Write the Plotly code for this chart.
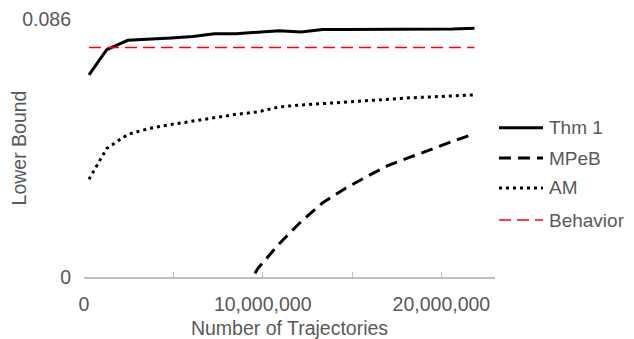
import plotly.graph_objects as go

# Number of trajectories (x) shared by all series
trajectories = [280000, 1270000, 2450000, 3660000, 4870000, 6090000, 7300000,
                8510000, 9720000, 10940000, 12150000, 13360000, 14570000,
                15790000, 17000000, 18210000, 19420000, 20640000, 21850000]

thm1 = [0.0675, 0.0759, 0.0790, 0.0793, 0.0798, 0.0803, 0.0812, 0.0812,
        0.0817, 0.0822, 0.0818, 0.0826, 0.0826, 0.0826, 0.0826, 0.0826,
        0.0827, 0.0828, 0.0830]

mpeb = [None, None, None, None, None, None, None, -0.0098,
        0.0028, 0.0112, 0.0185, 0.0248, 0.0294, 0.0334, 0.0372, 0.0399,
        0.0427, 0.0453, 0.0478]

am = [0.0326, 0.0429, 0.0476, 0.0496, 0.0509, 0.0521, 0.0533, 0.0543,
      0.0551, 0.0568, 0.0574, 0.0579, 0.0584, 0.0590, 0.0594, 0.0598,
      0.0601, 0.0605, 0.0608]

behavior = [0.0766] * len(trajectories)

series_names = ["Thm 1", "MPeB", "AM", "Behavior"]

x_tickvals = [0, 5000000, 10000000, 15000000, 20000000]
x_ticktext = ["0", "", "10,000,000", "", "20,000,000"]
y_tickvals = [0, 0.086]
y_ticktext = ["0", "0.086"]

FONT = "Liberation Sans, Arial, sans-serif"
GRAY = "#595959"
FS = 19.5

styles = [
    dict(color="black", width=3),
    dict(color="black", width=3, dash="12px,7px"),
    dict(color="black", width=3, dash="3px,4px"),
    dict(color="#ff0000", width=1.5, dash="12px,6px"),
]
values = [thm1, mpeb, am, behavior]

fig = go.Figure()
for name, vals, st in zip(series_names, values, styles):
    fig.add_trace(go.Scatter(x=trajectories, y=vals, name=name, mode="lines",
                             line=st, showlegend=False))

# Manual legend (sample line + label), right of the plot area
legend_rows_y = [0.5787, 0.4612, 0.3450, 0.2209]
for name, st, yy in zip(series_names, styles, legend_rows_y):
    fig.add_shape(type="line", xref="paper", yref="paper",
                  x0=1.0097, x1=1.1168, y0=yy, y1=yy,
                  line=dict(color=st["color"], width=st["width"],
                            dash=st.get("dash", "solid")))
    fig.add_annotation(xref="paper", yref="paper", x=1.1265, y=yy,
                       xanchor="left", yanchor="middle", showarrow=False,
                       text=name, font=dict(size=19, color=GRAY, family=FONT))

fig.update_layout(
    width=626, height=331,
    margin=dict(l=76, r=139, t=11, b=62, autoexpand=False),
    paper_bgcolor="white", plot_bgcolor="white",
    font=dict(family=FONT, size=FS, color=GRAY),
    showlegend=False,
    xaxis=dict(range=[0, 23000000], tickvals=x_tickvals, ticktext=x_ticktext,
               showgrid=False, zeroline=False, showline=True, automargin=False,
               linecolor="#bfbfbf", linewidth=1.5,
               ticks="inside", ticklen=5, tickcolor="#bfbfbf", tickwidth=1,
               ticklabelstandoff=9,
               title=dict(text="Number of Trajectories", standoff=8,
                          font=dict(size=FS, color=GRAY)),
               tickfont=dict(size=FS, color=GRAY)),
    yaxis=dict(range=[0, 0.08612], tickvals=y_tickvals, ticktext=y_ticktext,
               showgrid=True, gridcolor="#d9d9d9", gridwidth=1.5,
               zeroline=False, showline=False, ticks="", automargin=False,
               ticklabelstandoff=12,
               title=dict(text="Lower Bound", standoff=0,
                          font=dict(size=FS, color=GRAY)),
               tickfont=dict(size=FS, color=GRAY)),
)

fig.write_html("out.html")
